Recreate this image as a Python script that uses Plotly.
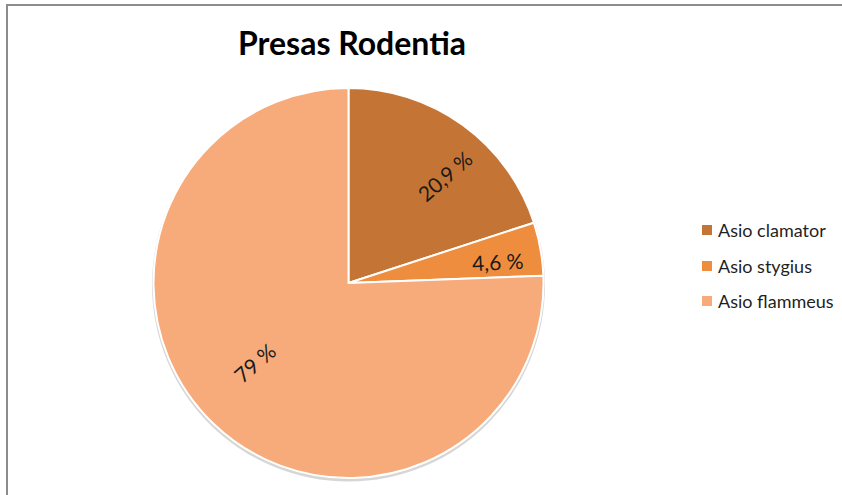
import math
import plotly.graph_objects as go

# Rodent prey share per owl species
species = ["Asio clamator", "Asio stygius", "Asio flammeus"]
shares = [20.9, 4.6, 79]
colors = ["#C47535", "#EE8D3E", "#F7AA7A"]

# label placement: radial fraction, angular nudge (deg), text rotation (deg)
label_r = [0.74, 0.77, 0.63]
label_nudge = [6, 2, 6]
label_rot = [-41, -3, -41]

W, H = 842, 495
FONT = "Lato"

# pie geometry in pixels
px0, px1, py0, py1 = 153, 544, 88, 478
cx, cy = (px0 + px1) / 2, (py0 + py1) / 2
R = min(px1 - px0, py1 - py0) / 2

fig = go.Figure()

fig.add_trace(go.Pie(
    labels=species,
    values=shares,
    sort=False,
    direction="clockwise",
    rotation=0,
    marker=dict(colors=colors, line=dict(color="white", width=2)),
    textinfo="none",
    hoverinfo="label+value",
    showlegend=False,
    domain=dict(x=[px0 / W, px1 / W], y=[1 - py1 / H, 1 - py0 / H]),
))


def fmt(v):
    s = f"{v:g}".replace(".", ",")
    return f"{s} %"


# value labels placed at each slice's mid-angle
total = sum(shares)
start = 0.0
for v, rf, nd, rot in zip(shares, label_r, label_nudge, label_rot):
    mid = (start + v / 2) / total * 360 + nd
    start += v
    a = math.radians(mid)
    lx = cx + rf * R * math.sin(a)
    ly = cy - rf * R * math.cos(a)
    fig.add_annotation(x=lx / W, y=1 - ly / H, xref="paper", yref="paper",
                       text=fmt(v), showarrow=False, textangle=rot,
                       xanchor="center", yanchor="middle",
                       font=dict(family=FONT, size=21, color="#1a1a1a"))

# soft shadow under the pie
sr = R + 1.5
fig.add_shape(type="circle", xref="paper", yref="paper", layer="below",
              x0=(cx - sr) / W, x1=(cx + sr) / W,
              y0=1 - (cy + 2 + sr) / H, y1=1 - (cy + 2 - sr) / H,
              fillcolor="rgba(0,0,0,0.16)", line=dict(width=0))

# legend: colour squares with species names
row_y = [230, 266, 301]
for name, col, yy in zip(species, colors, row_y):
    fig.add_shape(type="rect", xref="paper", yref="paper",
                  x0=702 / W, x1=712 / W, y0=1 - (yy + 5) / H, y1=1 - (yy - 5) / H,
                  fillcolor=col, line=dict(width=0))
    fig.add_annotation(x=716 / W, y=1 - yy / H, xref="paper", yref="paper",
                       text=name, showarrow=False, xanchor="left", yanchor="middle",
                       font=dict(family=FONT, size=18, color="#1f1f1f"))

# frame lines on top and left
fig.add_shape(type="line", xref="paper", yref="paper",
              x0=6 / W, x1=1, y0=1 - 5 / H, y1=1 - 5 / H,
              line=dict(color="#8c8c8c", width=2))
fig.add_shape(type="line", xref="paper", yref="paper",
              x0=7 / W, x1=7 / W, y0=0, y1=1 - 5 / H,
              line=dict(color="#8c8c8c", width=2))

fig.update_layout(
    width=W, height=H,
    margin=dict(l=0, r=0, t=0, b=0),
    paper_bgcolor="white",
    plot_bgcolor="white",
    title=dict(text="<b>Presas Rodentia</b>", x=352 / W, xanchor="center",
               y=1 - 44 / H, yanchor="middle",
               font=dict(family=FONT, size=32, color="#000000")),
    showlegend=False,
)

fig.write_html("out.html")
